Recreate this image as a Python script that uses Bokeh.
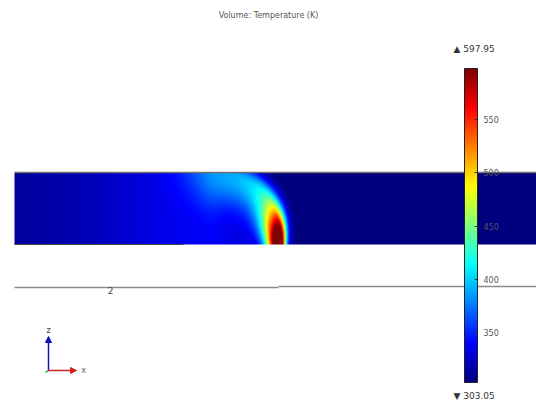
import numpy as np
from bokeh.plotting import figure
from bokeh.models import (Range1d, LinearColorMapper, ColorBar, FixedTicker,
                          Label, Arrow, NormalHead)
from bokeh.embed import file_html
from bokeh.resources import INLINE

# ---- data -------------------------------------------------------------
T_MIN = 303.05            # K, coldest value in the volume
T_MAX = 597.95            # K, hottest value in the volume
cbar_ticks = [350, 400, 450, 500, 550]
title_text = "Volume: Temperature (K)"
boundary_label = "2"

# temperature field model of the heated layer
core_rise = 230.0               # rise above ambient in the hot core
tail_rise = 125.0               # slower-decaying part of the plume
core_decay = 0.5                # core decay along the plume arc (rad)
tail_decay = 1.6                # tail decay along the plume arc (rad)
plume_center_x = 212.0          # centre of the curved plume
plume_radius_x = 67.0
plume_radius_z = 70.0
plume_shape = 2.3               # superellipse exponent of the plume arc
halo_rise = 28.0                # diffuse warming around the plume
halo_center_x = 215.0
halo_width = 120.0
upstream_rise = 8.0             # slight warming of the upstream layer

# ---- canvas geometry (screen-like units, y measured upward) -------------
W, H = 536, 401
band_x0, band_x1 = 14, 536
band_y0, band_y1 = H - 244, H - 172

# jet colormap
t = np.linspace(0, 1, 256)
def _ch(c):
    return np.clip(1.5 - np.abs(4 * t - c), 0, 1)
jet = ["#%02x%02x%02x" % (int(r * 255), int(g * 255), int(b * 255))
       for r, g, b in zip(_ch(3), _ch(2), _ch(1))]

# ---- temperature field -------------------------------------------------
nx, ny = 522, 72
xs = np.linspace(band_x0, band_x1, nx)
zs = np.linspace(band_y0, band_y1, ny)
X, Z = np.meshgrid(xs, zs)
dxn = (X - plume_center_x) / plume_radius_x
dzn = (Z - band_y0) / plume_radius_z
r = (np.abs(dxn) ** plume_shape + dzn ** plume_shape) ** (1 / plume_shape)
phi = np.arctan2(dzn, dxn)
tail = tail_rise * np.exp(-phi / tail_decay) * np.exp(-(np.maximum(phi - 1.5, 0) / 0.5) ** 2)
amp = core_rise * np.exp(-(phi / core_decay) ** 2) + tail
sig = 0.11 + 0.10 * phi
sig = np.where(r < 1.0, sig * 1.7, sig * 0.8)
ridge = amp * np.exp(-((r - 1.0) / sig) ** 2)

# warming fades quickly downstream of the plume's outer edge
outside = np.where(dxn > 0, np.maximum(r - 1.08, 0), 0)
fade = np.exp(-(outside / 0.12) ** 2)
halo = (halo_rise * np.exp(-((X - halo_center_x) / halo_width) ** 2)
        + upstream_rise / (1 + np.exp((X - 230) / 12.0))) * fade
T = np.clip(T_MIN + ridge + halo, T_MIN, T_MAX)

mapper = LinearColorMapper(palette=jet, low=T_MIN, high=T_MAX)

p = figure(width=W, height=H, output_backend="svg", toolbar_location=None,
           x_range=Range1d(0, W), y_range=Range1d(0, H), min_border=0,
           background_fill_color="white", border_fill_color="white")
p.axis.visible = False
p.grid.visible = False
p.outline_line_color = None

p.image(image=[T], x=band_x0, y=band_y0, dw=band_x1 - band_x0,
        dh=band_y1 - band_y0, color_mapper=mapper)

# domain edges
p.line([band_x0, band_x1], [band_y1, band_y1], line_color="#6f6f6f", line_width=1.5)
p.line([band_x0, 183], [band_y0, band_y0], line_color="#444444", line_width=1.2)
p.line([band_x0, 278], [H - 287, H - 287], line_color="#8a8a8a", line_width=1.5)
p.line([278, band_x1], [H - 286, H - 286], line_color="#8a8a8a", line_width=1.5)

font = "DejaVu Sans"
p.add_layout(Label(x=110, y=H - 290, text=boundary_label, text_font=font,
                   text_font_size="9px", text_color="#444444",
                   text_align="center", text_baseline="middle"))
p.add_layout(Label(x=W / 2, y=H - 15, text=title_text, text_font=font,
                   text_font_size="8px", text_color="#555555",
                   text_align="center", text_baseline="middle"))
p.add_layout(Label(x=453, y=H - 48, text="\u25b2 %.2f" % T_MAX, text_font=font,
                   text_font_size="9px", text_color="#333333",
                   text_baseline="middle"))
p.add_layout(Label(x=453, y=H - 395, text="\u25bc %.2f" % T_MIN, text_font=font,
                   text_font_size="9px", text_color="#333333",
                   text_baseline="middle"))

cbar = ColorBar(color_mapper=mapper, ticker=FixedTicker(ticks=cbar_ticks),
                location=(464, H - 382), width=13, height=314, padding=0,
                background_fill_alpha=0, border_line_color=None,
                bar_line_color="#222222", major_tick_in=3, major_tick_out=0,
                major_tick_line_color="#333333", label_standoff=6,
                major_label_text_font=font, major_label_text_font_size="8px",
                major_label_text_color="#555555")
p.add_layout(cbar, "center")

# coordinate triad
ox, oy = 48, H - 370
p.add_layout(Arrow(x_start=ox, y_start=oy, x_end=ox, y_end=oy + 34,
                   line_color="#1010c0", line_width=1.5,
                   end=NormalHead(size=6, fill_color="#1010c0", line_color="#1010c0")))
p.add_layout(Arrow(x_start=ox, y_start=oy, x_end=ox + 28, y_end=oy,
                   line_color="#d02020", line_width=1.5,
                   end=NormalHead(size=6, fill_color="#d02020", line_color="#d02020")))
p.line([ox - 3, ox], [oy - 2, oy], line_color="#20a020", line_width=1.5)
p.add_layout(Label(x=ox, y=oy + 40, text="z", text_font=font, text_font_size="8px",
                   text_color="#444444", text_align="center", text_baseline="middle"))
p.add_layout(Label(x=ox + 35, y=oy, text="x", text_font=font, text_font_size="8px",
                   text_color="#666666", text_align="center", text_baseline="middle"))

open("out.html", "w").write(file_html(p, INLINE))
